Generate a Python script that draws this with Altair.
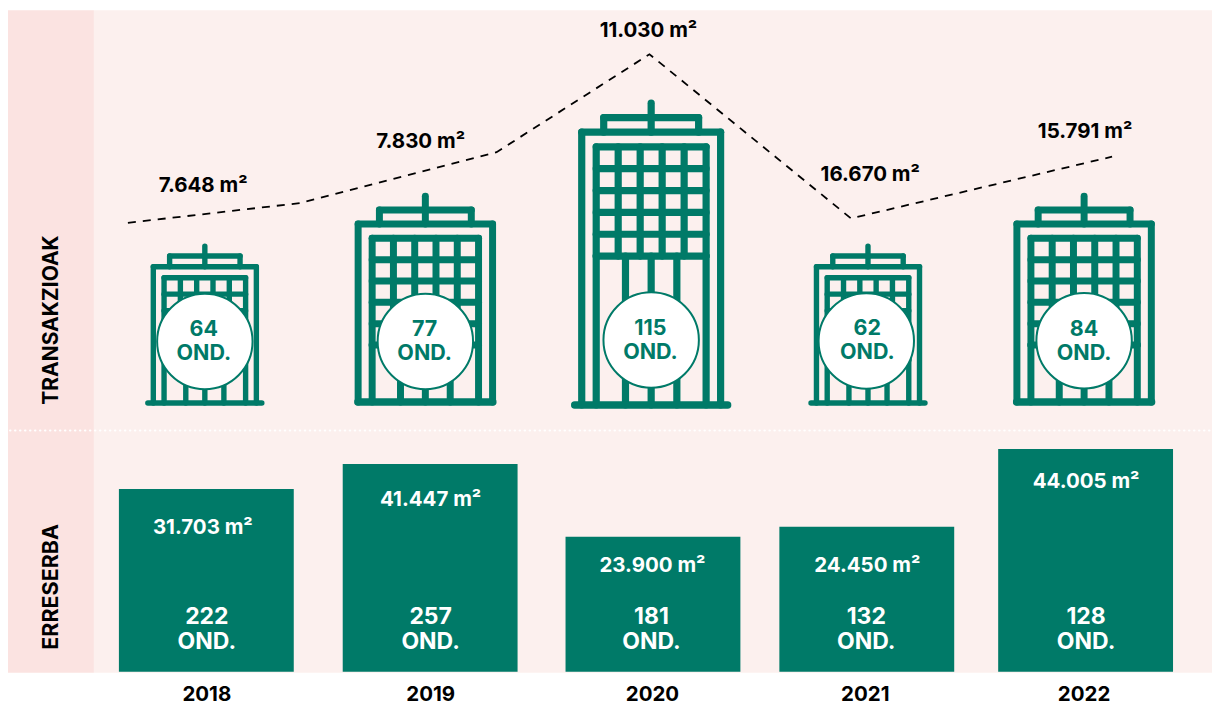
import altair as alt
import pandas as pd

years = [2018, 2019, 2020, 2021, 2022]
deals_count = [64, 77, 115, 62, 84]
deals_m2 = ["7.648 m²", "7.830 m²", "11.030 m²", "16.670 m²", "15.791 m²"]
reserve_m2 = ["31.703 m²", "41.447 m²", "23.900 m²", "24.450 m²", "44.005 m²"]
reserve_count = [222, 257, 181, 132, 128]
bar_levels = [489, 464, 537, 527, 449]
trend_x = [128, 300, 497, 650, 851.7, 1113]
trend_y = [222.7, 203, 152, 54, 218.3, 156.5]

GREEN = "#007a68"
FONT = "Inter"
x_s = alt.Scale(domain=[8, 1213], range=[0, 1205], nice=False, zero=False)
y_s = alt.Scale(domain=[8, 705], range=[0, 697], nice=False, zero=False)
X = lambda f: alt.X(f, type="quantitative", scale=x_s, axis=None)
Y = lambda f: alt.Y(f, type="quantitative", scale=y_s, axis=None)
X2 = lambda f: alt.X2(f)
Y2 = lambda f: alt.Y2(f)

bar_left = [119, 343, 566, 780, 999]
bar_right = [294, 518, 741, 955, 1174]
bars = pd.DataFrame({"year": years, "x": bar_left, "x2": bar_right, "y": bar_levels, "y2": [672] * 5})

# icon geometry: centre, top, base, scale, grid-bottom, base half-width
icons = [
    dict(cx=205, top=243, base=403, s=0.742, gb=360, bh=57, bw=5.5),
    dict(cx=425.7, top=193, base=402, s=0.968, gb=345, bh=67.5, bw=7.5),
    dict(cx=651.7, top=100, base=405, s=1.0, gb=256, bh=76.5, bw=7.5),
    dict(cx=868.7, top=243, base=403, s=0.742, gb=360, bh=57, bw=5.5),
    dict(cx=1085, top=193, base=402, s=0.968, gb=345, bh=67.5, bw=7.5),
]


def icon_segments(cx, top, base, s, gb, bh, bw):
    w = 7 * s + 0.2
    segs = []
    add = lambda x, x2, y, y2, sw=w: segs.append(dict(x=x, x2=x2, y=y, y2=y2, sw=sw))
    # antenna
    add(cx, cx, top + 3, top + 32 * s)
    # upper box
    bt, bb = top + 17.5 * s, top + 32 * s
    add(cx - 47.5 * s, cx + 47.5 * s, bt, bt)
    add(cx - 47.5 * s, cx - 47.5 * s, bt, bb)
    add(cx + 47.5 * s, cx + 47.5 * s, bt, bb)
    # tower
    mt = top + 32 * s
    add(cx - 69.5 * s, cx + 69.5 * s, mt, mt)
    add(cx - 69.5 * s, cx - 69.5 * s, mt, base)
    add(cx + 69.5 * s, cx + 69.5 * s, mt, base)
    # window grid
    gt = top + 46.7 * s
    half = 55 * s
    for i in range(6):
        gx = cx - half + i * (2 * half / 5)
        add(gx, gx, gt, gb)
        gy = gt + i * (gb - gt) / 5
        add(cx - half, cx + half, gy, gy)
    # lower columns
    for off in (-half, -25.7 * s, 0, 25.7 * s, half):
        add(cx + off, cx + off, gb, base)
    # ground line
    add(cx - bh, cx + bh, base, base, bw)
    return segs


segs = pd.DataFrame([r for ic in icons for r in icon_segments(**ic)])

bg = pd.DataFrame({"x": [8, 94], "x2": [94, 1213], "y": [10, 10], "y2": [673, 673], "c": ["#fbe3e1", "#fcf0ee"]})
background = alt.Chart(bg).mark_rect().encode(
    x=X("x"), x2=X2("x2"), y=Y("y"), y2=Y2("y2"), color=alt.Color("c:N", scale=None)
)
divider = alt.Chart(pd.DataFrame({"x": [10], "x2": [1213], "y": [430.5]})).mark_rule(
    color="white", strokeWidth=2, strokeDash=[0.5, 4.5], strokeCap="round"
).encode(x=X("x"), x2=X2("x2"), y=Y("y"))

bar_layer = alt.Chart(bars).mark_rect(color=GREEN).encode(x=X("x"), x2=X2("x2"), y=Y("y"), y2=Y2("y2"))

icon_layer = alt.Chart(segs).mark_rule(color=GREEN, strokeCap="round").encode(
    x=X("x"), x2=X2("x2"), y=Y("y"), y2=Y2("y2"), strokeWidth=alt.StrokeWidth("sw:Q", scale=None)
)

circ = pd.DataFrame({"x": [205, 425.7, 651.7, 867, 1085], "y": [341.5, 341.5, 340, 341, 340.7]})
circles = alt.Chart(circ).mark_point(
    shape="circle", filled=True, fill="white", stroke=GREEN, strokeWidth=2, size=9120, opacity=1
).encode(x=X("x"), y=Y("y"))

trend = alt.Chart(pd.DataFrame({"x": trend_x, "y": trend_y, "o": range(6)})).mark_line(
    color="black", strokeWidth=1.8, strokeDash=[8, 7]
).encode(x=X("x"), y=Y("y"), order="o:Q")


def text_layer(xs, ys, texts, color, size, **kw):
    df = pd.DataFrame({"x": xs, "y": ys, "t": [str(t) for t in texts]})
    return alt.Chart(df).mark_text(
        font=FONT, fontWeight="bold", fontSize=size, color=color, align="center", baseline="middle", **kw
    ).encode(x=X("x"), y=Y("y"), text="t:N")


cx = [204, 425, 651, 868, 1085]
labels = [
    text_layer(cx, [330, 330, 329, 329, 330], deals_count, GREEN, 21.5),
    text_layer(cx, [354, 354, 353, 353, 354], ["OND."] * 5, GREEN, 21.5),
    text_layer([203.3, 421, 649, 871, 1086], [185.5, 142, 31, 174.5, 132], deals_m2, "black", 20.5),
    text_layer([203, 431, 653, 868, 1087], [528, 500, 566, 566, 482], reserve_m2, "white", 20.5),
    text_layer([207, 431, 652, 867, 1087], [617] * 5, reserve_count, "white", 23),
    text_layer([207, 431, 652, 867, 1087], [642] * 5, ["OND."] * 5, "white", 23),
    text_layer([207, 431, 653, 866, 1085], [695.5] * 5, years, "black", 20.5),
    text_layer([52], [320], ["TRANSAKZIOAK"], "black", 21, angle=270),
    text_layer([52], [587], ["ERRESERBA"], "black", 21.5, angle=270),
]

chart = alt.layer(background, divider, bar_layer, icon_layer, trend, circles, *labels).properties(
    width=1205, height=697, padding=0, background="white"
).configure_view(stroke=None)

chart.save("out.html", embed_options={"renderer": "svg", "actions": False})
